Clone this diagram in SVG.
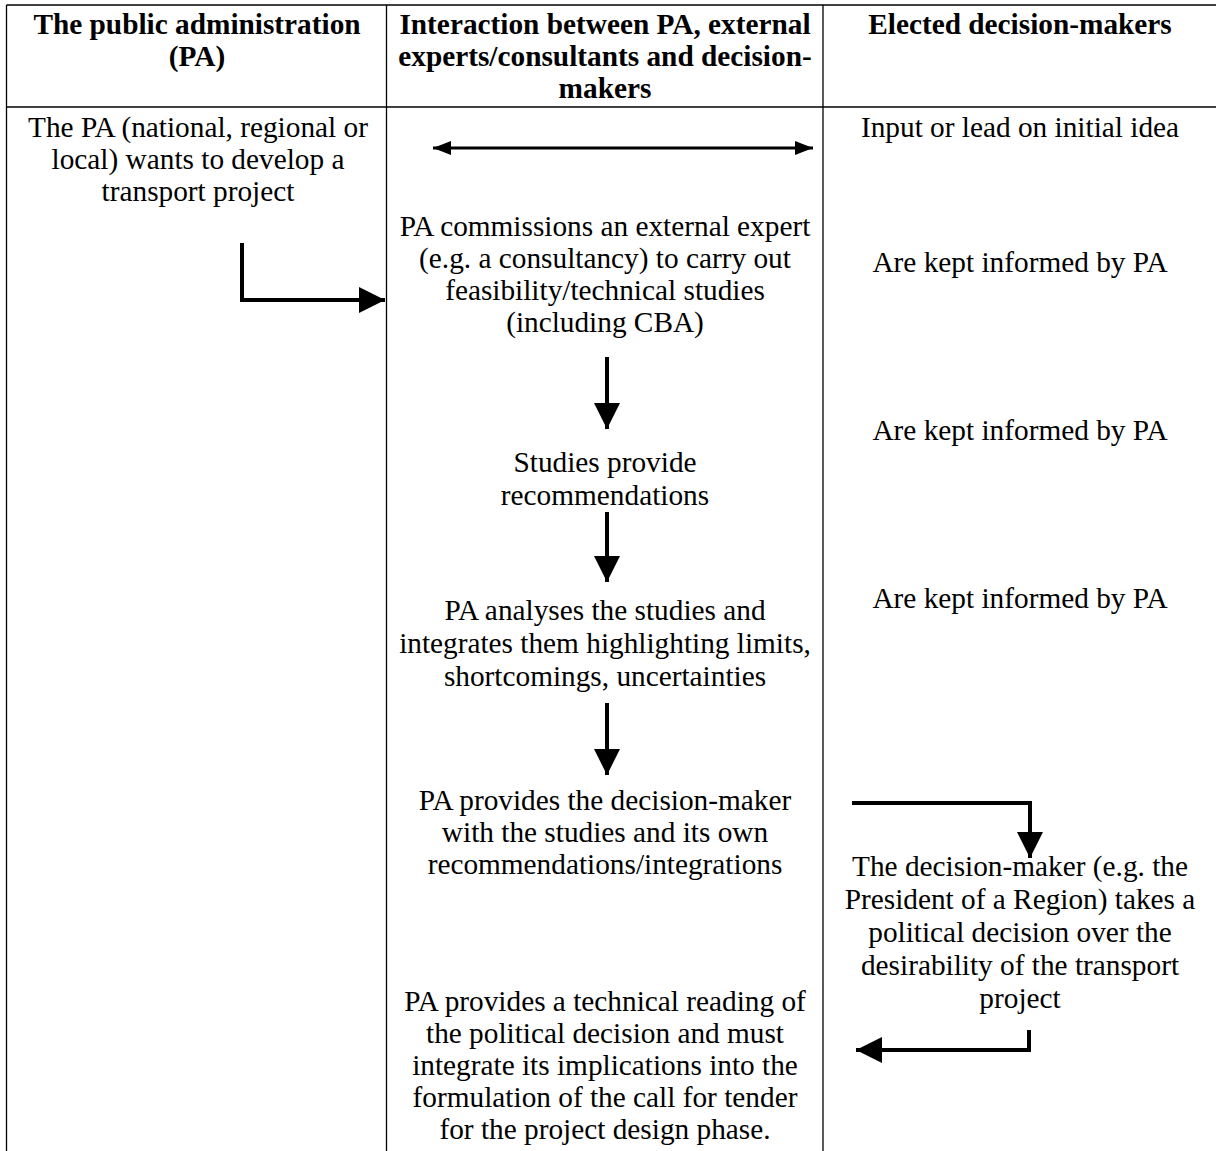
<svg xmlns="http://www.w3.org/2000/svg" width="1216" height="1151" viewBox="0 0 1216 1151">
<defs>
<style>
.grid{stroke:#000;stroke-width:1.3;fill:none}
.c{stroke:#000;stroke-width:4;fill:none}
.thin{stroke:#000;stroke-width:3;fill:none}
</style>
<marker id="big" markerUnits="userSpaceOnUse" markerWidth="26" markerHeight="26" refX="26" refY="13" orient="auto" viewBox="0 0 26 26">
<path d="M0,0 L26,13 L0,26 z" fill="#000"/>
</marker>
<marker id="small" markerUnits="userSpaceOnUse" markerWidth="18" markerHeight="14" refX="18" refY="7" orient="auto-start-reverse" viewBox="0 0 18 14">
<path d="M0,0 L18,7 L0,14 z" fill="#000"/>
</marker>
</defs>
<rect width="1216" height="1151" fill="#fff"/>
<g id="table">
<line class="grid" x1="6.5" y1="5" x2="1216" y2="5"/>
<line class="grid" x1="6.5" y1="107" x2="1216" y2="107"/>
<line class="grid" x1="6.5" y1="5" x2="6.5" y2="1151"/>
<line class="grid" x1="386.5" y1="5" x2="386.5" y2="1151"/>
<line class="grid" x1="823" y1="5" x2="823" y2="1151"/>
</g>
<g font-family="'Liberation Serif', 'Times New Roman', 'DejaVu Serif', serif" font-size="29.3" fill="#000" text-anchor="middle">
<g font-weight="bold">
<g id="header-pa">
<text x="197" y="34">The public administration</text>
<text x="197" y="66">(PA)</text>
</g>
<g id="header-interaction">
<text x="605" y="34">Interaction between PA, external</text>
<text x="605" y="66">experts/consultants and decision-</text>
<text x="605" y="98">makers</text>
</g>
<g id="header-elected">
<text x="1020" y="34">Elected decision-makers</text>
</g>
</g>
<g id="pa-start">
<text x="198" y="137">The PA (national, regional or</text>
<text x="198" y="169">local) wants to develop a</text>
<text x="198" y="201">transport project</text>
</g>
<g id="elected-input">
<text x="1020" y="137">Input or lead on initial idea</text>
</g>
<g id="commission">
<text x="605" y="236">PA commissions an external expert</text>
<text x="605" y="268">(e.g. a consultancy) to carry out</text>
<text x="605" y="300">feasibility/technical studies</text>
<text x="605" y="332">(including CBA)</text>
</g>
<g id="informed-1">
<text x="1020" y="272">Are kept informed by PA</text>
</g>
<g id="informed-2">
<text x="1020" y="440">Are kept informed by PA</text>
</g>
<g id="recommendations">
<text x="605" y="472">Studies provide</text>
<text x="605" y="505">recommendations</text>
</g>
<g id="informed-3">
<text x="1020" y="608">Are kept informed by PA</text>
</g>
<g id="analyses">
<text x="605" y="620">PA analyses the studies and</text>
<text x="605" y="653">integrates them highlighting limits,</text>
<text x="605" y="686">shortcomings, uncertainties</text>
</g>
<g id="provides">
<text x="605" y="810">PA provides the decision-maker</text>
<text x="605" y="842">with the studies and its own</text>
<text x="605" y="874">recommendations/integrations</text>
</g>
<g id="decision">
<text x="1020" y="876">The decision-maker (e.g. the</text>
<text x="1020" y="909">President of a Region) takes a</text>
<text x="1020" y="942">political decision over the</text>
<text x="1020" y="975">desirability of the transport</text>
<text x="1020" y="1008">project</text>
</g>
<g id="technical-reading">
<text x="605" y="1011">PA provides a technical reading of</text>
<text x="605" y="1043">the political decision and must</text>
<text x="605" y="1075">integrate its implications into the</text>
<text x="605" y="1107">formulation of the call for tender</text>
<text x="605" y="1139">for the project design phase.</text>
</g>
</g>
<g id="connectors">
<line class="thin" x1="433" y1="148" x2="813" y2="148" marker-start="url(#small)" marker-end="url(#small)"/>
<path class="c" d="M242,243 V300 H385" marker-end="url(#big)"/>
<line class="c" x1="607" y1="357" x2="607" y2="429" marker-end="url(#big)"/>
<line class="c" x1="607" y1="512" x2="607" y2="582" marker-end="url(#big)"/>
<line class="c" x1="607" y1="703" x2="607" y2="775" marker-end="url(#big)"/>
<path class="c" d="M852,803 H1030 V858" marker-end="url(#big)"/>
<path class="c" d="M1029,1030 V1050 H856" marker-end="url(#big)"/>
</g>
</svg>
